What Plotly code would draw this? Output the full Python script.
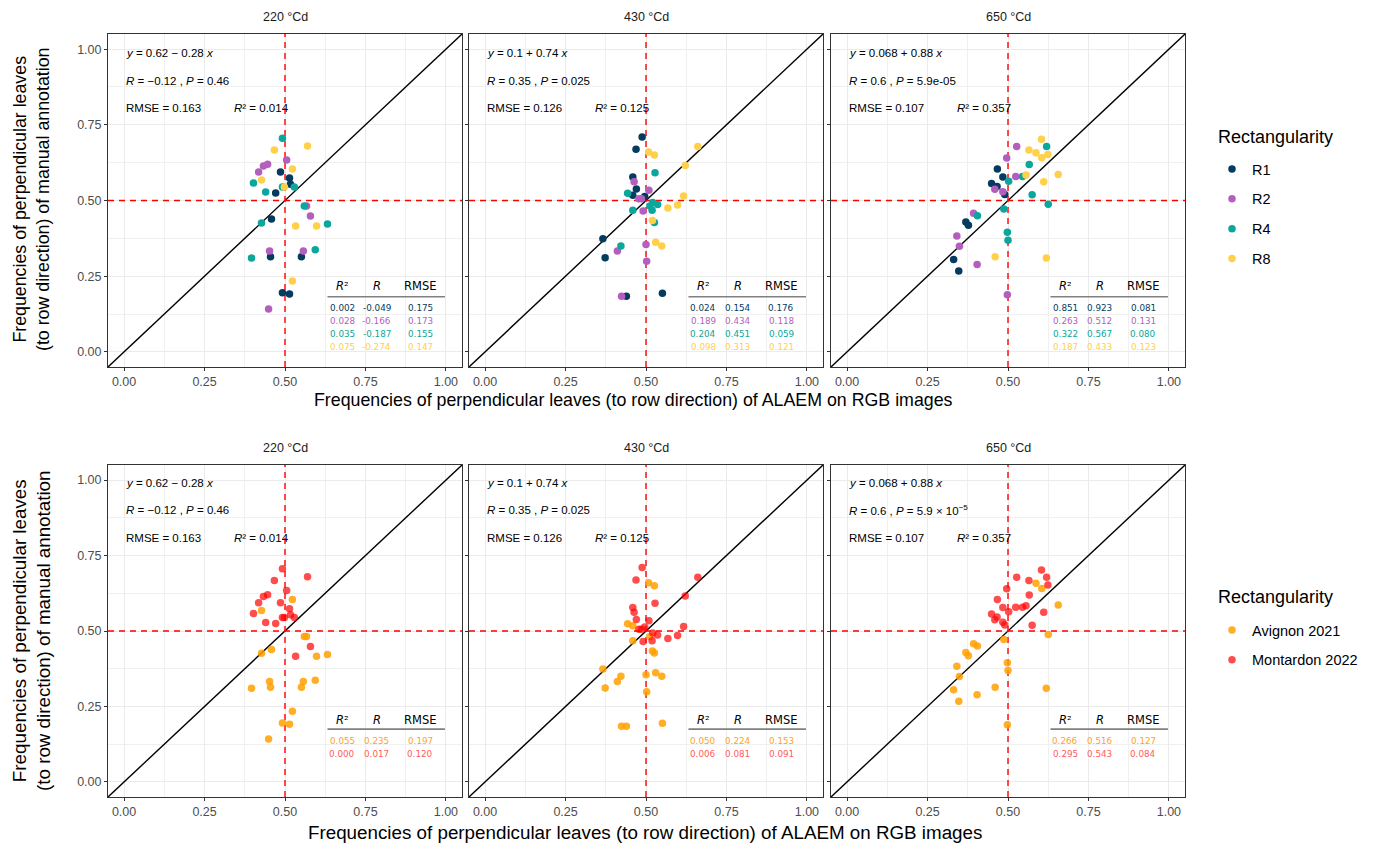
import plotly.graph_objects as go

W, H = 1373, 844

stages = ["220 °Cd", "430 °Cd", "650 °Cd"]
rect_groups = ["R1", "R2", "R4", "R8"]
site_names = ["Avignon 2021", "Montardon 2022"]
site_codes = ["A", "M"]

# ---------------- data: 220 °Cd ----------------
x220 = [0.570, 0.492, 0.505, 0.467, 0.446, 0.433, 0.418, 0.486, 0.514, 0.517,
        0.402, 0.440, 0.471, 0.492, 0.529, 0.498, 0.523, 0.427, 0.579, 0.560,
        0.632, 0.567, 0.533, 0.598, 0.427, 0.458, 0.452, 0.455, 0.396, 0.551,
        0.557, 0.594, 0.523, 0.492, 0.514, 0.449]
y220 = [0.680, 0.706, 0.634, 0.667, 0.620, 0.614, 0.594, 0.594, 0.574, 0.554,
        0.558, 0.528, 0.525, 0.545, 0.545, 0.545, 0.604, 0.568, 0.449, 0.482,
        0.422, 0.482, 0.416, 0.416, 0.426, 0.439, 0.333, 0.314, 0.310, 0.314,
        0.333, 0.337, 0.234, 0.195, 0.191, 0.142]
rect220 = ["R8", "R4", "R2", "R8", "R2", "R2", "R2", "R1", "R1", "R1",
           "R4", "R4", "R1", "R4", "R4", "R8", "R8", "R8", "R2", "R4",
           "R4", "R2", "R8", "R8", "R4", "R1", "R2", "R1", "R4", "R1",
           "R2", "R4", "R8", "R1", "R1", "R2"]
site220 = ["M", "M", "M", "M", "M", "M", "M", "M", "M", "M",
           "M", "M", "M", "M", "M", "M", "A", "A", "M", "A",
           "A", "A", "M", "A", "A", "A", "A", "A", "A", "A",
           "A", "A", "A", "A", "A", "A"]

# ---------------- data: 430 °Cd ----------------
x430 = [0.488, 0.469, 0.661, 0.508, 0.526, 0.528, 0.622, 0.459, 0.463, 0.470,
        0.443, 0.509, 0.459, 0.617, 0.478, 0.486, 0.496, 0.521, 0.536, 0.512,
        0.568, 0.598, 0.459, 0.491, 0.519, 0.520, 0.526, 0.366, 0.422, 0.411,
        0.500, 0.530, 0.549, 0.373, 0.502, 0.424, 0.439, 0.551]
y430 = [0.710, 0.669, 0.678, 0.660, 0.650, 0.592, 0.616, 0.578, 0.562, 0.538,
        0.524, 0.534, 0.517, 0.515, 0.506, 0.506, 0.513, 0.493, 0.487, 0.482,
        0.475, 0.485, 0.468, 0.465, 0.468, 0.434, 0.427, 0.374, 0.350, 0.333,
        0.355, 0.362, 0.350, 0.311, 0.299, 0.184, 0.184, 0.194]
rect430 = ["R1", "R1", "R8", "R8", "R8", "R4", "R8", "R1", "R2", "R1",
           "R4", "R2", "R1", "R8", "R2", "R2", "R1", "R4", "R4", "R4",
           "R8", "R8", "R4", "R2", "R4", "R8", "R4", "R1", "R4", "R2",
           "R2", "R8", "R8", "R1", "R2", "R2", "R1", "R1"]
site430 = ["M", "M", "M", "A", "A", "M", "M", "M", "M", "M",
           "A", "M", "A", "M", "M", "M", "M", "M", "M", "A",
           "M", "M", "A", "M", "M", "A", "A", "A", "A", "A",
           "A", "A", "A", "A", "A", "A", "A", "A"]

# ---------------- data: 650 °Cd ----------------
x650 = [0.604, 0.620, 0.527, 0.565, 0.587, 0.605, 0.624, 0.496, 0.566, 0.467,
        0.656, 0.484, 0.524, 0.556, 0.545, 0.502, 0.611, 0.449, 0.466, 0.459,
        0.484, 0.490, 0.575, 0.625, 0.487, 0.393, 0.405, 0.369, 0.377, 0.498,
        0.500, 0.341, 0.349, 0.460, 0.619, 0.331, 0.404, 0.347, 0.498]
y650 = [0.702, 0.678, 0.678, 0.667, 0.658, 0.641, 0.652, 0.640, 0.619, 0.604,
        0.586, 0.578, 0.579, 0.584, 0.579, 0.564, 0.562, 0.556, 0.546, 0.537,
        0.529, 0.520, 0.519, 0.488, 0.472, 0.458, 0.450, 0.429, 0.418, 0.395,
        0.369, 0.383, 0.349, 0.314, 0.310, 0.305, 0.289, 0.267, 0.189]
rect650 = ["R8", "R4", "R2", "R8", "R8", "R8", "R8", "R2", "R4", "R1",
           "R8", "R1", "R2", "R8", "R4", "R4", "R8", "R1", "R1", "R2",
           "R2", "R1", "R4", "R4", "R4", "R2", "R4", "R1", "R1", "R4",
           "R4", "R2", "R2", "R8", "R8", "R1", "R2", "R1", "R2"]
site650 = ["M", "M", "M", "M", "A", "A", "M", "M", "M", "M",
           "A", "M", "M", "M", "M", "M", "M", "M", "M", "M",
           "M", "M", "M", "A", "A", "A", "A", "A", "A", "A",
           "A", "A", "A", "A", "A", "A", "A", "A", "A"]

# ---------------- regression annotation text ----------------
eq_text = ["<i>y</i> = 0.62 − 0.28 <i>x</i>",
           "<i>y</i> = 0.1 + 0.74 <i>x</i>",
           "<i>y</i> = 0.068 + 0.88 <i>x</i>"]
r_text = ["−0.12", "0.35", "0.6"]
p_text_top = ["0.46", "0.025", "5.9e-05"]
p_text_bottom = ["0.46", "0.025", "5.9 × 10<sup>−5</sup>"]
rmse_all = ["0.163", "0.126", "0.107"]
r2_all = ["0.014", "0.125", "0.357"]

# ---------------- per-group statistics tables ----------------
tab_r2_top = [[0.002, 0.028, 0.035, 0.075],
              [0.024, 0.189, 0.204, 0.098],
              [0.851, 0.263, 0.322, 0.187]]
tab_r_top = [[-0.049, -0.166, -0.187, -0.274],
             [0.154, 0.434, 0.451, 0.313],
             [0.923, 0.512, 0.567, 0.433]]
tab_rmse_top = [[0.175, 0.173, 0.155, 0.147],
                [0.176, 0.118, 0.059, 0.121],
                [0.081, 0.131, 0.080, 0.123]]
tab_r2_bot = [[0.055, 0.000], [0.050, 0.006], [0.266, 0.295]]
tab_r_bot = [[0.235, 0.017], [0.224, 0.081], [0.516, 0.543]]
tab_rmse_bot = [[0.197, 0.120], [0.153, 0.091], [0.127, 0.084]]

rect_colors = ["#053b5e", "#b45fbf", "#0aa79c", "#ffd04a"]
site_colors = ["rgba(255,160,0,0.85)", "rgba(255,0,0,0.70)"]
site_text_colors = ["#ffa31a", "#ff5c5c"]

xs = [x220, x430, x650]
ys = [y220, y430, y650]
rects = [rect220, rect430, rect650]
sites = [site220, site430, site650]

# ---------------- layout geometry ----------------
panel_px_x = [(108, 462), (469, 823), (831, 1185)]
row_px_y = [(34, 367), (465, 797)]
RANGE = [-0.05, 1.05]
FONT = "Liberation Sans, Arial, sans-serif"
TFONT = "DejaVu Sans, sans-serif"

fig = go.Figure()
layout = dict(width=W, height=H, margin=dict(l=0, r=0, t=0, b=0),
              paper_bgcolor="white", plot_bgcolor="white",
              font=dict(family=FONT, color="black"), showlegend=True)

annotations = []
shapes = []

for row in range(2):
    for col in range(3):
        n = row * 3 + col + 1
        xa = "xaxis" if n == 1 else f"xaxis{n}"
        ya = "yaxis" if n == 1 else f"yaxis{n}"
        xr = "x" if n == 1 else f"x{n}"
        yr = "y" if n == 1 else f"y{n}"
        x0, x1 = panel_px_x[col]
        y0, y1 = row_px_y[row]
        common = dict(range=RANGE, tickvals=[0, 0.25, 0.5, 0.75, 1.0],
                      ticktext=["0.00", "0.25", "0.50", "0.75", "1.00"],
                      showgrid=True, gridcolor="#ebebeb", gridwidth=1.1,
                      minor=dict(tickvals=[0.125, 0.375, 0.625, 0.875],
                                 showgrid=True, gridcolor="#f0f0f0", gridwidth=0.6),
                      showline=True, mirror=True, linecolor="#333333", linewidth=1,
                      ticks="outside", ticklen=3, tickcolor="#333333", tickwidth=1,
                      tickfont=dict(size=12.5, color="#4d4d4d", family=FONT),
                      zeroline=False, fixedrange=True)
        layout[xa] = dict(common, domain=[x0 / W, x1 / W], anchor=yr)
        layout[ya] = dict(common, domain=[1 - y1 / H, 1 - y0 / H], anchor=xr,
                          showticklabels=(col == 0))

        # reference lines
        fig.add_trace(go.Scatter(x=RANGE, y=RANGE, mode="lines",
                                 line=dict(color="black", width=1.4),
                                 xaxis=xr, yaxis=yr, showlegend=False, hoverinfo="skip"))
        fig.add_trace(go.Scatter(x=[0.5, 0.5], y=RANGE, mode="lines",
                                 line=dict(color="#ff0000", width=1.4, dash="6px,5px"),
                                 xaxis=xr, yaxis=yr, showlegend=False, hoverinfo="skip"))
        fig.add_trace(go.Scatter(x=RANGE, y=[0.5, 0.5], mode="lines",
                                 line=dict(color="#ff0000", width=1.4, dash="6px,5px"),
                                 xaxis=xr, yaxis=yr, showlegend=False, hoverinfo="skip"))

        # points
        if row == 0:
            for g, gname in enumerate(rect_groups):
                px = [xv for xv, rv in zip(xs[col], rects[col]) if rv == gname]
                py = [yv for yv, rv in zip(ys[col], rects[col]) if rv == gname]
                fig.add_trace(go.Scatter(x=px, y=py, mode="markers", name=gname,
                                         legendgroup=gname, legend="legend",
                                         showlegend=(col == 0),
                                         marker=dict(color=rect_colors[g], size=7.5),
                                         xaxis=xr, yaxis=yr))
        else:
            for s, scode in enumerate(site_codes):
                px = [xv for xv, sv in zip(xs[col], sites[col]) if sv == scode]
                py = [yv for yv, sv in zip(ys[col], sites[col]) if sv == scode]
                fig.add_trace(go.Scatter(x=px, y=py, mode="markers", name=site_names[s],
                                         legendgroup=site_names[s], legend="legend2",
                                         showlegend=(col == 0),
                                         marker=dict(color=site_colors[s], size=7.5),
                                         xaxis=xr, yaxis=yr))

        # strip title
        annotations.append(dict(text=stages[col], x=(x0 + x1) / 2 / W,
                                y=1 - (y0 - 17) / H, xref="paper", yref="paper",
                                xanchor="center", yanchor="middle",
                                showarrow=False, font=dict(size=12.5, color="#1a1a1a")))

        # regression text
        ytxt = [0.988, 0.896, 0.806] if row == 0 else [0.990, 0.900, 0.808]
        ptxt = p_text_top[col] if row == 0 else p_text_bottom[col]
        lines = [eq_text[col],
                 f"<i>R</i> = {r_text[col]} , <i>P</i> = {ptxt}",
                 f"RMSE = {rmse_all[col]}"]
        for k, t in enumerate(lines):
            annotations.append(dict(text=t, x=0.0, y=ytxt[k], xref=xr, yref=yr,
                                    xanchor="left", yanchor="middle", showarrow=False,
                                    font=dict(size=11.5, color="black")))
        annotations.append(dict(text=f"<i>R</i>² = {r2_all[col]}", x=0.335, y=ytxt[2],
                                xref=xr, yref=yr, xanchor="left", yanchor="middle",
                                showarrow=False, font=dict(size=11.5, color="black")))

        # group table
        colx = [0.678, 0.785, 0.921]
        hdr_y = 0.216 if row == 0 else 0.206
        line_y = 0.182 if row == 0 else 0.175
        row_y0 = 0.145 if row == 0 else 0.136
        for hx, ht in zip(colx, ["<i>R</i>²", "<i>R</i>", "RMSE"]):
            annotations.append(dict(text=ht, x=hx, y=hdr_y, xref=xr, yref=yr,
                                    showarrow=False, xanchor="center", yanchor="middle",
                                    font=dict(size=11.5, family=TFONT, color="black")))
        shapes.append(dict(type="line", xref=xr, yref=yr, x0=0.632, x1=0.997,
                           y0=line_y, y1=line_y, line=dict(color="#808080", width=1.6)))
        if row == 0:
            vals = list(zip(tab_r2_top[col], tab_r_top[col], tab_rmse_top[col]))
            cols_ = rect_colors
        else:
            vals = list(zip(tab_r2_bot[col], tab_r_bot[col], tab_rmse_bot[col]))
            cols_ = site_text_colors
        for k, v in enumerate(vals):
            for cx, val in zip(colx, v):
                annotations.append(dict(text=f"{val:.3f}", x=cx, y=row_y0 - 0.043 * k,
                                        xref=xr, yref=yr, showarrow=False,
                                        xanchor="center", yanchor="middle",
                                        font=dict(size=8.8, family=TFONT, color=cols_[k])))

# axis titles (top and bottom figure halves)
xt = "Frequencies of perpendicular leaves (to row direction) of ALAEM on RGB images"
yt = "Frequencies of perpendicular leaves<br>(to row direction) of manual annotation"
for ty_px, xc_px, ymid, fs in [(400, 633, 200, 17.8), (832, 645, 631, 18.8)]:
    annotations.append(dict(text=xt, x=xc_px / W, y=1 - ty_px / H, xref="paper", yref="paper",
                            xanchor="center", yanchor="middle",
                            showarrow=False, font=dict(size=fs, color="black")))
    annotations.append(dict(text=yt, x=31 / W, y=1 - ymid / H, xref="paper", yref="paper",
                            xanchor="center", yanchor="middle",
                            showarrow=False, textangle=-90,
                            font=dict(size=fs, color="black")))

# legend titles
for ty_px in [137, 597]:
    annotations.append(dict(text="Rectangularity", x=1216 / W, y=1 - ty_px / H,
                            xref="paper", yref="paper", xanchor="left", yanchor="middle",
                            showarrow=False, font=dict(size=18, color="black")))

layout["annotations"] = annotations
layout["shapes"] = shapes
layout["legend"] = dict(x=1212 / W, y=1 - 153 / H, xanchor="left", yanchor="top",
                        font=dict(size=14.5, color="black"), tracegroupgap=8,
                        bgcolor="rgba(0,0,0,0)")
layout["legend2"] = dict(x=1212 / W, y=1 - 614 / H, xanchor="left", yanchor="top",
                         font=dict(size=14.5, color="black"), tracegroupgap=8,
                         bgcolor="rgba(0,0,0,0)")
fig.update_layout(**layout)
fig.write_html("out.html")
